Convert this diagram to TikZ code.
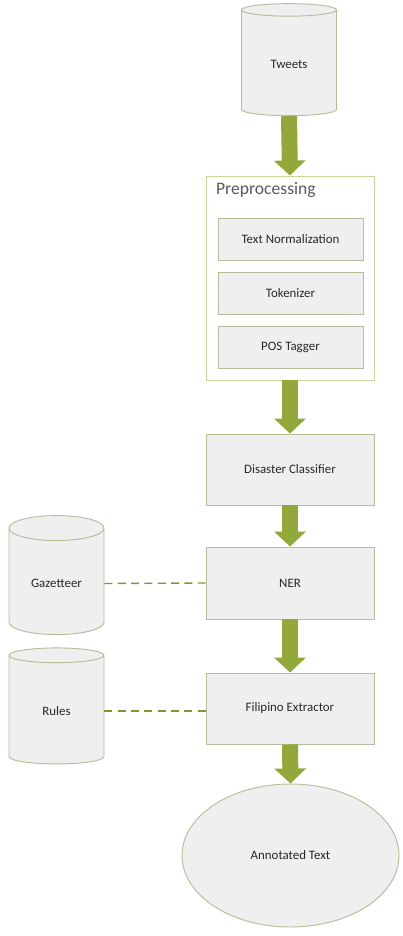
\documentclass[tikz,border=0pt]{standalone}
\usepackage{fontspec}
\setmainfont{Carlito}
\usetikzlibrary{shapes.geometric, arrows.meta, positioning}
\definecolor{flBoxFill}{RGB}{239,239,239}
\definecolor{flBoxLine}{RGB}{184,188,152}
\definecolor{flGroupLine}{RGB}{195,214,155}
\definecolor{flArrow}{RGB}{146,168,58}
\definecolor{flDash}{RGB}{128,150,50}
\definecolor{flText}{RGB}{40,40,40}
\tikzset{
  stagebox/.style={rectangle, draw=flBoxLine, fill=flBoxFill, line width=0.8pt,
    font=\fontsize{11}{13}\selectfont, text=flText, minimum width=5.04cm, inner sep=2pt},
  substagebox/.style={stagebox, minimum width=4.35cm, minimum height=1.26cm},
  groupbox/.style={rectangle, draw=flGroupLine, fill=white, line width=0.8pt,
    minimum width=5.04cm, minimum height=6.12cm},
  datastore/.style={cylinder, shape border rotate=90, aspect=0.3, draw=flBoxLine,
    fill=flBoxFill, line width=0.8pt, font=\fontsize{11}{13}\selectfont, text=flText,
    minimum width=2.85cm, inner sep=2pt},
  outputnode/.style={ellipse, draw=flBoxLine, fill=flBoxFill, line width=0.8pt,
    font=\fontsize{11}{13}\selectfont, text=flText, minimum width=6.51cm, minimum height=4.29cm},
  flowarrow/.style={-{Triangle[length=0.45cm, width=0.93cm]}, line width=0.48cm, color=flArrow},
  linkline/.style={draw=flDash, line width=1.2pt, dash pattern=on 0.24cm off 0.16cm},
}

\begin{document}
\begin{tikzpicture}[x=0.03cm, y=-0.03cm]
\useasboundingbox (0,0) rectangle (403,936);

%% sources
\node[datastore, minimum height=3.36cm] (tweets) at (289,64) {Tweets};
\node[datastore, aspect=0.45, minimum height=3.57cm] (gazetteer) at (56.5,583.5) {Gazetteer};
\node[datastore, aspect=0.45, minimum height=3.48cm] (rules) at (56.5,711) {Rules};

%% preprocessing group
\node[groupbox] (preproc) at (290,278) {};
\node[anchor=west, font=\fontsize{15}{17}\selectfont, text=black!65] (preproc_title) at (212,190) {Preprocessing};
\node[substagebox] (textnorm) at (290.5,239) {Text Normalization};
\node[substagebox] (tokenizer) at (290.5,293) {Tokenizer};
\node[substagebox] (postagger) at (290.5,347) {POS Tagger};

%% main stages
\node[stagebox, minimum height=2.13cm] (classifier) at (290,469.5) {Disaster Classifier};
\node[stagebox, minimum height=2.16cm] (ner) at (290,583) {NER};
\node[stagebox, minimum height=2.13cm] (extractor) at (290,708.5) {Filipino Extractor};
\node[outputnode] (annotated) at (290.5,855.5) {Annotated Text};

%% flow arrows
\draw[flowarrow] (tweets.south)     -- (preproc.north);
\draw[flowarrow] (preproc.south)    -- (classifier.north);
\draw[flowarrow] (classifier.south) -- (ner.north);
\draw[flowarrow] (ner.south)        -- (extractor.north);
\draw[flowarrow] (extractor.south)  -- (annotated.north);

%% resource links
\draw[linkline] (gazetteer.east) -- (ner.west);
\draw[linkline] (rules.east) -- (rules.east -| extractor.west);

\end{tikzpicture}
\end{document}
